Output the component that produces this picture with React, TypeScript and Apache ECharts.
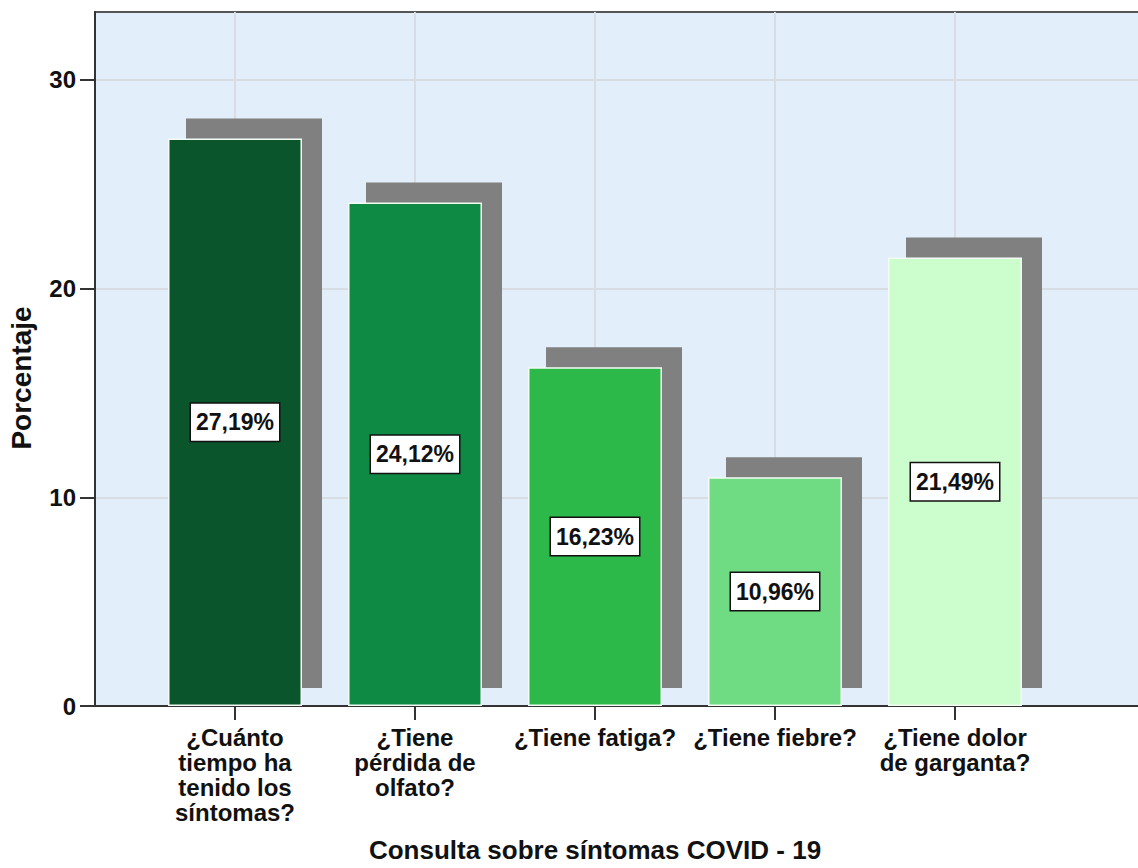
import React, { useEffect, useRef } from "react";
import * as echarts from "echarts";

const categories = [
  "¿Cuánto\ntiempo ha\ntenido los\nsíntomas?",
  "¿Tiene\npérdida de\nolfato?",
  "¿Tiene fatiga?",
  "¿Tiene fiebre?",
  "¿Tiene dolor\nde garganta?",
];
const percentages = [27.19, 24.12, 16.23, 10.96, 21.49];
const barColors = ["#0b552d", "#0f8a45", "#2db84a", "#6fdc84", "#ccfdcc"];
const yTicks = [0, 10, 20, 30];

const BAR_W = 134;

export default function App() {
  const ref = useRef<HTMLDivElement>(null);
  useEffect(() => {
    if (!ref.current) return;
    const chart = echarts.init(ref.current, undefined, { renderer: "svg" });
    const sans = "'Liberation Sans', Arial, sans-serif";
    chart.setOption({
      animation: false,
      backgroundColor: "#ffffff",
      grid: [
        {
          left: 95,
          top: 12,
          width: 1060,
          bottom: 162,
          outerBoundsMode: "none",
          containLabel: false,
          show: true,
          backgroundColor: "#e2eefa",
          borderColor: "#555555",
          borderWidth: 2,
        },
        { left: 235, top: 12, width: 720, bottom: 162, outerBoundsMode: "none", containLabel: false },
      ],
      xAxis: [
        {
          type: "value",
          gridIndex: 0,
          min: 0,
          max: 1,
          axisLine: { show: true, lineStyle: { color: "#333333", width: 2 } },
          axisTick: { show: false },
          axisLabel: { show: false },
          splitLine: { show: false },
        },
        {
          type: "category",
          gridIndex: 1,
          data: categories,
          boundaryGap: false,
          axisLine: { show: false },
          axisTick: { show: true, length: 14, lineStyle: { color: "#333333", width: 2 } },
          axisLabel: {
            interval: 0,
            margin: 19,
            color: "#111111",
            fontFamily: sans,
            fontWeight: "bold",
            fontSize: 24,
            lineHeight: 25,
            align: "center",
          },
          splitLine: { show: true, lineStyle: { color: "#d8dde3", width: 2 } },
          name: "Consulta sobre síntomas COVID - 19",
          nameLocation: "middle",
          nameGap: 131,
          nameTextStyle: { color: "#111111", fontFamily: sans, fontWeight: "bold", fontSize: 26 },
        },
      ],
      yAxis: [
        {
          type: "value",
          gridIndex: 0,
          min: 0,
          max: 33.25,
          interval: 10,
          axisLine: { show: true, lineStyle: { color: "#333333", width: 2 } },
          axisTick: { show: true, length: 15, customValues: yTicks, lineStyle: { color: "#333333", width: 2 } },
          axisLabel: {
            customValues: yTicks,
            margin: 19,
            color: "#111111",
            fontFamily: sans,
            fontWeight: "bold",
            fontSize: 24,
          },
          splitLine: { show: true, lineStyle: { color: "#d8dde3", width: 2 } },
          name: "Porcentaje",
          nameLocation: "middle",
          nameGap: 60,
          nameTextStyle: {
            color: "#111111",
            fontFamily: sans,
            fontWeight: "bold",
            fontSize: 28,
            padding: [0, 38, 0, 0],
          },
        },
        { type: "value", gridIndex: 1, min: 0, max: 33.25, show: false },
      ],
      series: [
        {
          type: "custom",
          xAxisIndex: 1,
          yAxisIndex: 1,
          clip: false,
          z: 1,
          data: percentages.map((v, i) => [i, v]),
          renderItem: (params: any, api: any) => {
            const top = api.coord([api.value(0), api.value(1)]);
            const base = api.coord([api.value(0), 0]);
            const y0 = top[1] - 20;
            return {
              type: "rect",
              shape: { x: top[0] - BAR_W / 2 + 18, y: y0, width: BAR_W + 2, height: base[1] - 18 - y0 },
              style: { fill: "#808080" },
            };
          },
        },
        {
          type: "bar",
          xAxisIndex: 1,
          yAxisIndex: 1,
          clip: false,
          z: 2,
          barWidth: BAR_W,
          data: percentages.map((v, i) => ({
            value: v,
            itemStyle: { color: barColors[i], borderColor: "#f4fbf4", borderWidth: 1.5 },
          })),
          label: {
            show: true,
            position: "inside",
            formatter: (p: any) => p.value.toFixed(2).replace(".", ",") + "%",
            color: "#111111",
            fontFamily: sans,
            fontWeight: "bold",
            fontSize: 23,
            lineHeight: 29,
            backgroundColor: "#ffffff",
            borderColor: "#111111",
            borderWidth: 1.5,
            padding: [4, 5, 4, 5],
          },
        },
      ],
    });
    return () => chart.dispose();
  }, []);
  return (
    <div
      ref={ref}
      style={{ position: "fixed", left: 0, top: 0, width: 1138, height: 868 }}
    />
  );
}
